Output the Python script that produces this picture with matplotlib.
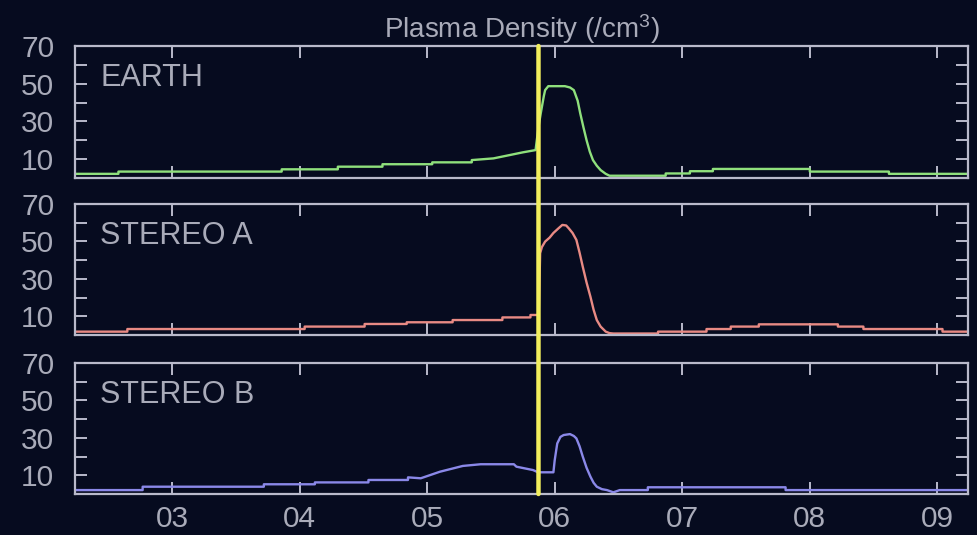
import matplotlib

matplotlib.use("Agg")
import matplotlib.pyplot as plt
from matplotlib.patches import ConnectionPatch

plt.rcParams["font.family"] = ["Liberation Sans", "DejaVu Sans"]
plt.rcParams["mathtext.fontset"] = "custom"
plt.rcParams["mathtext.rm"] = "Liberation Sans"
plt.rcParams["mathtext.it"] = "Liberation Sans"

# время в днях месяца (02.24 ... 09.24)
earth_days = [2.24, 2.58, 2.58, 3.86, 3.86, 4.30, 4.30, 4.65, 4.65, 5.04, 5.04,
              5.35, 5.35, 5.52, 5.65, 5.75, 5.85, 5.873, 5.89, 5.90, 5.915, 5.925,
              5.95, 6.08, 6.12, 6.15, 6.18, 6.20, 6.225, 6.25, 6.275, 6.30, 6.33,
              6.36, 6.40, 6.43, 6.87, 6.87, 7.06, 7.06, 7.24, 7.24, 8.00, 8.00,
              8.62, 8.62, 9.24]
earth_vals = [2.2, 2.2, 3.4, 3.4, 4.6, 4.6, 6.0, 6.0, 7.3, 7.3, 8.3,
              8.3, 9.5, 10.4, 12.2, 13.6, 14.8, 27.0, 34.0, 37.8, 43.5, 46.6,
              48.7, 48.7, 48.0, 46.6, 41.0, 34.4, 27.0, 20.0, 14.0, 9.5, 6.5,
              4.2, 2.2, 1.2, 1.2, 2.4, 2.4, 3.6, 3.6, 4.8, 4.8, 3.4,
              3.4, 2.2, 2.2]

sta_days = [2.24, 2.65, 2.65, 4.04, 4.04, 4.51, 4.51, 4.84, 4.84, 5.20, 5.20,
            5.59, 5.59, 5.81, 5.81, 5.875, 5.886, 5.90, 5.925, 5.96, 5.99, 6.03,
            6.06, 6.09, 6.11, 6.14, 6.17, 6.195, 6.22, 6.25, 6.28, 6.305, 6.33,
            6.36, 6.40, 6.43, 6.46, 6.81, 6.81, 7.19, 7.19, 7.38, 7.38, 7.60,
            7.60, 8.22, 8.22, 8.42, 8.42, 9.04, 9.04, 9.24]
sta_vals = [1.8, 1.8, 3.2, 3.2, 4.5, 4.5, 5.9, 5.9, 6.8, 6.8, 8.0,
            8.0, 9.4, 9.4, 10.7, 10.7, 43.7, 47.0, 49.9, 52.0, 54.5, 57.0,
            58.8, 58.5, 57.0, 54.5, 50.8, 44.0, 36.5, 28.0, 20.5, 13.5, 8.0,
            4.5, 1.8, 1.0, 0.8, 0.8, 1.8, 1.8, 3.2, 3.2, 4.5, 4.5,
            5.7, 5.7, 4.5, 4.5, 3.2, 3.2, 1.8, 1.8]

stb_days = [2.24, 2.77, 2.77, 3.72, 3.72, 4.12, 4.12, 4.54, 4.54, 4.85, 4.85,
            4.95, 5.10, 5.28, 5.42, 5.68, 5.70, 5.83, 5.87, 5.99, 6.00, 6.02,
            6.045, 6.07, 6.12, 6.15, 6.17, 6.195, 6.22, 6.25, 6.28, 6.305, 6.33,
            6.37, 6.41, 6.46, 6.51, 6.73, 6.73, 7.81, 7.81, 9.24]
stb_vals = [2.1, 2.1, 3.9, 3.9, 5.2, 5.2, 6.2, 6.2, 7.5, 7.5, 8.9,
            8.4, 11.9, 15.0, 15.9, 15.9, 14.6, 12.8, 11.6, 11.6, 18.0, 27.0,
            30.5, 31.5, 32.0, 31.0, 29.7, 25.5, 20.0, 14.0, 9.3, 6.0, 3.9,
            2.6, 2.1, 0.9, 2.1, 2.1, 3.6, 3.6, 2.1, 2.1]

panel_names = ["EARTH", "STEREO A", "STEREO B"]
panel_days = [earth_days, sta_days, stb_days]
panel_vals = [earth_vals, sta_vals, stb_vals]
panel_colors = ["#8fe07c", "#e88a84", "#8a88e8"]

x_ticks = [3, 4, 5, 6, 7, 8, 9]
x_labels = ["03", "04", "05", "06", "07", "08", "09"]
shock_day = 5.873

BG = "#060b1f"
FG = "#b9bacb"
TXT = "#a9abb9"

fig = plt.figure(figsize=(9.77, 5.35), dpi=100)
fig.patch.set_facecolor(BG)

# позиции панелей в долях фигуры
boxes = [
    [0.0768, 0.6673, 0.914, 0.2467],
    [0.0768, 0.3738, 0.914, 0.2450],
    [0.0768, 0.0766, 0.914, 0.2450],
]

axes = []
for i, box in enumerate(boxes):
    ax = fig.add_axes(box)
    ax.set_facecolor(BG)
    ax.plot(panel_days[i], panel_vals[i], color=panel_colors[i], linewidth=1.7)
    ax.set_xlim(2.24, 9.24)
    ax.set_ylim(0, 70)

    ax.set_yticks([10, 30, 50, 70])
    ax.set_yticks([20, 40, 60], minor=True)
    ax.set_xticks(x_ticks)
    if i == 2:
        ax.set_xticklabels(x_labels)
    else:
        ax.set_xticklabels([])

    for s in ax.spines.values():
        s.set_color(FG)
        s.set_linewidth(1.6)

    ax.tick_params(which="both", direction="in", top=True, right=True,
                   color=FG, width=1.4)
    ax.tick_params(axis="y", which="both", length=8.5, pad=15,
                   labelsize=21.5, labelcolor=TXT)
    ax.tick_params(axis="x", length=8.5, pad=8, labelsize=21.5, labelcolor=TXT)

    ax.text(0.028, 0.757, panel_names[i], transform=ax.transAxes,
            ha="left", va="center", fontsize=22, color=TXT)
    axes.append(ax)

axes[0].set_title("Plasma Density (/cm$^{3}$)", fontsize=20, color=TXT, pad=5)

# жёлтая линия через все панели
line = ConnectionPatch(xyA=(shock_day, 70), coordsA=axes[0].transData,
                       xyB=(shock_day, 0), coordsB=axes[2].transData,
                       color="#f2ee5c", linewidth=3.2, zorder=10)
fig.add_artist(line)

plt.savefig("out.png", dpi=100, facecolor=BG)
plt.close()
